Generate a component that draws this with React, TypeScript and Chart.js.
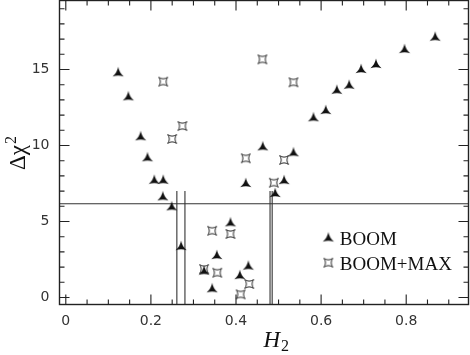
import React, { useEffect, useRef } from "react";
import { Chart, registerables } from "chart.js";

Chart.register(...registerables);

// ---- data ----
const SERIES_LABELS = ["BOOM", "BOOM+MAX"];
const BOOM_H2 = [0.123, 0.147, 0.176, 0.192, 0.208, 0.229, 0.228, 0.249, 0.271, 0.325, 0.344, 0.355, 0.387, 0.409, 0.429, 0.423, 0.463, 0.492, 0.513, 0.535, 0.582, 0.611, 0.637, 0.666, 0.694, 0.729, 0.796, 0.868];
const BOOM_CHI2 = [14.75, 13.17, 10.54, 9.16, 7.68, 7.68, 6.59, 5.93, 3.32, 1.7, 0.54, 2.73, 4.88, 1.41, 2.03, 7.47, 9.88, 6.81, 7.66, 9.49, 11.79, 12.27, 13.6, 13.93, 14.97, 15.3, 16.28, 17.09];
const BM_H2 = [0.229, 0.25, 0.274, 0.325, 0.344, 0.356, 0.387, 0.411, 0.431, 0.423, 0.462, 0.489, 0.513, 0.535];
const BM_CHI2 = [14.2, 10.43, 11.28, 1.875, 4.39, 1.63, 4.18, 0.21, 0.89, 9.16, 15.67, 7.55, 9.05, 14.16];

const CL_LEVEL = 6.17;
const CL_BOUNDS = [0.261, 0.28, 0.48, 0.485];
const CL_BOUND_TOP = 7.0;
const CL_BOUND_BOTTOM = -1;

const X_MIN = -0.0148;
const X_MAX = 0.9464;
const Y_MIN = -0.46;
const Y_MAX = 19.54;
const X_TICKS = [0, 0.2, 0.4, 0.6, 0.8];
const X_TICK_LABELS = ["0", "0.2", "0.4", "0.6", "0.8"];
const X_MINOR = [0.05, 0.1, 0.15, 0.25, 0.3, 0.35, 0.45, 0.5, 0.55, 0.65, 0.7, 0.75, 0.85, 0.9];
const Y_TICKS = [0, 5, 10, 15];
const Y_TICK_LABELS = ["0", "5", "10", "15"];
const Y_MINOR = [1, 2, 3, 4, 6, 7, 8, 9, 11, 12, 13, 14, 16, 17, 18, 19];

const INK = "#111";

function drawTriStar(ctx: CanvasRenderingContext2D, cx: number, cy: number, r: number) {
  const tips = [-90, 30, 150].map((a) => (a * Math.PI) / 180);
  const mids = [-30, 90, 210].map((a) => (a * Math.PI) / 180);
  ctx.beginPath();
  ctx.moveTo(cx + r * Math.cos(tips[0]), cy + r * Math.sin(tips[0]));
  for (let i = 0; i < 3; i++) {
    const n = tips[(i + 1) % 3];
    const m = mids[i];
    ctx.quadraticCurveTo(
      cx + 0.18 * r * Math.cos(m),
      cy + 0.18 * r * Math.sin(m),
      cx + r * Math.cos(n),
      cy + r * Math.sin(n)
    );
  }
  ctx.closePath();
  ctx.fillStyle = INK;
  ctx.fill();
}

function drawQuadStar(ctx: CanvasRenderingContext2D, cx: number, cy: number, s: number) {
  const k = 0.3 * s;
  ctx.beginPath();
  ctx.moveTo(cx - s, cy - s);
  ctx.quadraticCurveTo(cx, cy - k, cx + s, cy - s);
  ctx.quadraticCurveTo(cx + k, cy, cx + s, cy + s);
  ctx.quadraticCurveTo(cx, cy + k, cx - s, cy + s);
  ctx.quadraticCurveTo(cx - k, cy, cx - s, cy - s);
  ctx.closePath();
  ctx.lineWidth = 0.9;
  ctx.strokeStyle = INK;
  ctx.stroke();
}

function makeMarker(kind: "tri" | "quad") {
  const c = document.createElement("canvas");
  c.width = 16;
  c.height = 16;
  const ctx = c.getContext("2d")!;
  if (kind === "tri") drawTriStar(ctx, 8, 8, 6.4);
  else drawQuadStar(ctx, 8, 8, 4.4);
  return c;
}

export default function App() {
  const ref = useRef<HTMLCanvasElement | null>(null);

  useEffect(() => {
    document.body.style.margin = "0";
    const canvas = ref.current!;
    const triImg = makeMarker("tri");
    const quadImg = makeMarker("quad");

    const framePlugin = {
      id: "frame",
      afterDraw(chart: any) {
        const { ctx, chartArea: a, scales } = chart;
        const xs = scales.x;
        const ys = scales.y;
        ctx.save();
        ctx.strokeStyle = "#222";
        ctx.lineWidth = 1.4;
        ctx.strokeRect(a.left, a.top, a.right - a.left, a.bottom - a.top);
        ctx.lineWidth = 1.1;
        ctx.beginPath();
        const xt = (v: number, len: number) => {
          const px = xs.getPixelForValue(v);
          ctx.moveTo(px, a.bottom);
          ctx.lineTo(px, a.bottom - len);
          ctx.moveTo(px, a.top);
          ctx.lineTo(px, a.top + len);
        };
        const yt = (v: number, len: number) => {
          const py = ys.getPixelForValue(v);
          ctx.moveTo(a.left, py);
          ctx.lineTo(a.left + len, py);
          ctx.moveTo(a.right, py);
          ctx.lineTo(a.right - len, py);
        };
        X_TICKS.forEach((v) => xt(v, 10));
        X_MINOR.forEach((v) => xt(v, 5));
        Y_TICKS.forEach((v) => yt(v, 10));
        Y_MINOR.forEach((v) => yt(v, 5));
        ctx.stroke();

        // legend
        const lx = xs.getPixelForValue(0.617);
        const ly1 = 238.5;
        const ly2 = 262.7;
        ctx.drawImage(triImg, lx - 8, ly1 - 8);
        ctx.drawImage(quadImg, lx - 8, ly2 - 8);
        ctx.fillStyle = INK;
        ctx.font = "19px 'Liberation Serif'";
        ctx.textAlign = "left";
        ctx.textBaseline = "alphabetic";
        ctx.fillText(SERIES_LABELS[0], lx + 11.5, 244.5);
        ctx.fillText(SERIES_LABELS[1], lx + 11.5, 269.5);

        // x title: H_2
        ctx.font = "italic 23px 'Liberation Serif'";
        ctx.fillText("H", 263.5, 346.7);
        ctx.font = "16px 'Liberation Serif'";
        ctx.fillText("2", 281, 351);

        // y title: Δχ^2
        ctx.translate(25, 170);
        ctx.rotate(-Math.PI / 2);
        ctx.font = "23px 'Liberation Serif'";
        ctx.fillText("Δχ", 0, 0);
        const w = ctx.measureText("Δχ").width;
        ctx.font = "16px 'Liberation Serif'";
        ctx.fillText("2", w + 1, -9);
        ctx.restore();
      },
    };

    const lineDs = (data: { x: number; y: number }[]) => ({
      type: "line" as const,
      data,
      showLine: true,
      borderColor: "#333",
      borderWidth: 1.1,
      pointRadius: 0,
      fill: false,
    });

    const chart = new Chart(canvas, {
      type: "scatter",
      data: {
        datasets: [
          {
            label: SERIES_LABELS[0],
            data: BOOM_H2.map((x, i) => ({ x, y: BOOM_CHI2[i] })),
            pointStyle: triImg as any,
            pointRadius: 6,
          },
          {
            label: SERIES_LABELS[1],
            data: BM_H2.map((x, i) => ({ x, y: BM_CHI2[i] })),
            pointStyle: quadImg as any,
            pointRadius: 5,
          },
          lineDs([
            { x: X_MIN, y: CL_LEVEL },
            { x: X_MAX, y: CL_LEVEL },
          ]),
          ...CL_BOUNDS.map((b) =>
            lineDs([
              { x: b, y: CL_BOUND_BOTTOM },
              { x: b, y: CL_BOUND_TOP },
            ])
          ),
        ] as any,
      },
      options: {
        animation: false,
        responsive: false,
        devicePixelRatio: 1,
        layout: { autoPadding: false, padding: { top: 0.5, right: 1.5, left: 0, bottom: 0 } },
        plugins: { legend: { display: false }, tooltip: { enabled: false } },
        scales: {
          x: {
            type: "linear",
            min: X_MIN,
            max: X_MAX,
            afterBuildTicks: (s: any) => {
              s.ticks = X_TICKS.map((v) => ({ value: v }));
            },
            afterFit: (s: any) => {
              s.height = 50.5;
              s.paddingLeft = 0;
              s.paddingRight = 0;
            },
            grid: { display: false, drawTicks: false },
            border: { display: false },
            ticks: {
              callback: (_v: any, i: number) => X_TICK_LABELS[i],
              font: { family: "'DejaVu Sans'", size: 14 },
              color: "#333",
              padding: 8,
              maxRotation: 0,
              autoSkip: false,
            },
          },
          y: {
            type: "linear",
            min: Y_MIN,
            max: Y_MAX,
            afterBuildTicks: (s: any) => {
              s.ticks = Y_TICKS.map((v) => ({ value: v }));
            },
            afterFit: (s: any) => {
              s.width = 59.5;
              s.paddingTop = 0;
              s.paddingBottom = 0;
            },
            grid: { display: false, drawTicks: false },
            border: { display: false },
            ticks: {
              callback: (_v: any, i: number) => Y_TICK_LABELS[i],
              font: { family: "'DejaVu Sans'", size: 14 },
              color: "#333",
              padding: 10,
              autoSkip: false,
            },
          },
        },
      },
      plugins: [framePlugin],
    });
    return () => chart.destroy();
  }, []);

  return (
    <div style={{ width: 470, height: 355, position: "relative" }}>
      <canvas ref={ref} width={470} height={355} />
    </div>
  );
}
